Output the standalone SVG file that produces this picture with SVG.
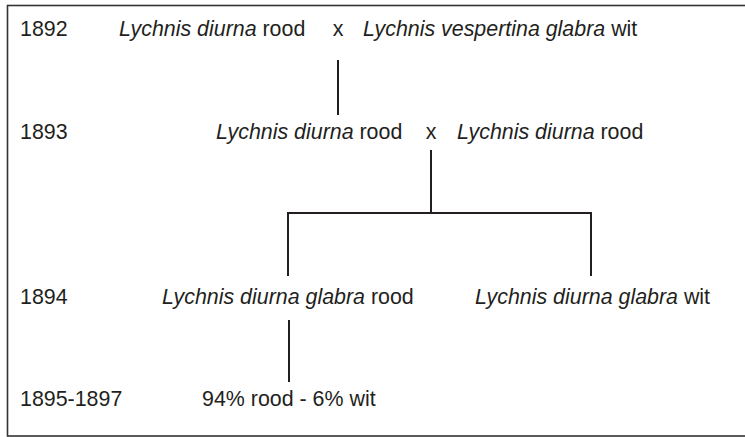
<svg xmlns="http://www.w3.org/2000/svg" width="745" height="437" viewBox="0 0 745 437">
<style>
text{font-family:"Liberation Sans",Arial,sans-serif;font-size:21.4px;fill:#231f20}
.i{font-style:italic}
.c{stroke:#231f20;stroke-width:2;fill:none}
</style>
<rect x="0" y="0" width="745" height="437" fill="#fff"/>
<rect x="7.5" y="5.5" width="742" height="430.5" fill="none" stroke="#333" stroke-width="1.6"/>
<g id="years">
<text x="20" y="36">1892</text>
<text x="20" y="139">1893</text>
<text x="20" y="304">1894</text>
<text x="20" y="406">1895-1897</text>
</g>
<g id="p1"><text x="119" y="36"><tspan class="i">Lychnis diurna</tspan> rood</text></g>
<g id="x1"><text x="338" y="36" text-anchor="middle">x</text></g>
<g id="p2"><text x="363" y="36"><tspan class="i">Lychnis vespertina glabra</tspan> wit</text></g>
<g id="f1a"><text x="216" y="139"><tspan class="i">Lychnis diurna</tspan> rood</text></g>
<g id="x2"><text x="431" y="139" text-anchor="middle">x</text></g>
<g id="f1b"><text x="457" y="139"><tspan class="i">Lychnis diurna</tspan> rood</text></g>
<g id="f2a"><text x="162" y="304"><tspan class="i">Lychnis diurna glabra</tspan> rood</text></g>
<g id="f2b"><text x="475" y="304"><tspan class="i">Lychnis diurna glabra</tspan> wit</text></g>
<g id="f3"><text x="202" y="406">94% rood - 6% wit</text></g>
<g id="connectors">
<line class="c" x1="338" y1="60" x2="338" y2="115"/>
<line class="c" x1="431" y1="150" x2="431" y2="213"/>
<polyline class="c" points="288,276 288,213 591,213 591,276"/>
<line class="c" x1="289" y1="320" x2="289" y2="382"/>
</g>
</svg>
